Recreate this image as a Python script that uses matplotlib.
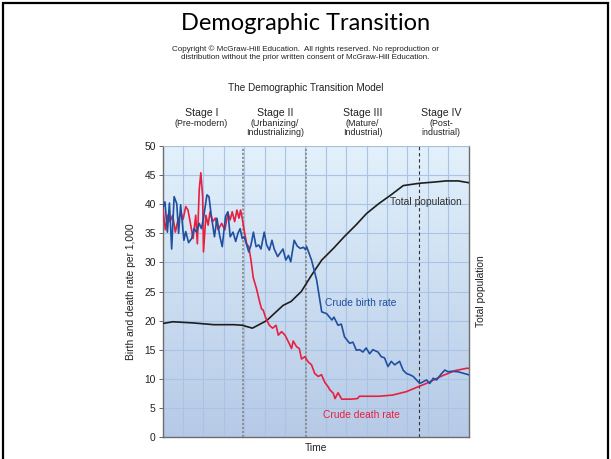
import numpy as np
import matplotlib
matplotlib.use("Agg")
import matplotlib.pyplot as plt

# Time runs in arbitrary grid units (0-15); rates are per 1,000 people.
birth_x = [0.00, 0.11, 0.23, 0.33, 0.44, 0.56, 0.69, 0.78, 0.88, 1.04, 1.13, 1.27,
           1.42, 1.53, 1.66, 1.79, 1.90, 2.00, 2.17, 2.27, 2.38, 2.54, 2.66, 2.79,
           2.92, 3.08, 3.20, 3.31, 3.45, 3.58, 3.69, 3.80, 3.90, 4.00, 4.12, 4.22,
           4.33, 4.45, 4.58, 4.71, 4.82, 4.98, 5.10, 5.23, 5.36, 5.47, 5.64, 5.80,
           5.90, 6.04, 6.17, 6.28, 6.45, 6.60, 6.75, 6.90, 7.00, 7.06, 7.30, 7.55,
           7.80, 8.04, 8.30, 8.40, 8.60, 8.76, 8.92, 9.17, 9.33, 9.50, 9.66, 9.82,
           9.98, 10.15, 10.31, 10.56, 10.72, 10.88, 11.05, 11.21, 11.38, 11.62, 11.79,
           11.96, 12.12, 12.29, 12.45, 12.61, 12.78, 12.94, 13.10, 13.27, 13.43, 13.68,
           13.84, 14.00, 14.17, 14.50, 15.00]
birth_rate = [39.3, 40.4, 35.2, 40.2, 32.3, 41.3, 40.1, 35.0, 39.9, 33.8, 35.3, 33.4,
              34.1, 35.8, 35.2, 36.7, 35.8, 37.6, 41.6, 41.3, 38.1, 34.4, 37.6, 34.7,
              32.7, 37.9, 38.7, 34.4, 35.2, 33.6, 35.0, 35.8, 34.1, 34.4, 33.0, 31.8,
              33.0, 35.2, 32.7, 33.0, 32.3, 35.2, 33.0, 32.1, 33.8, 32.3, 31.0, 31.8,
              32.3, 30.4, 31.2, 30.1, 33.8, 32.8, 32.4, 32.6, 32.2, 32.7, 30.4, 27.0,
              21.5, 21.2, 20.1, 20.6, 19.2, 19.4, 17.2, 16.1, 16.3, 14.9, 15.0, 14.6,
              15.3, 14.3, 15.0, 14.6, 13.8, 13.6, 12.1, 13.0, 12.4, 13.0, 11.5,
              10.9, 10.7, 10.4, 9.8, 9.2, 9.5, 9.8, 9.2, 10.1, 9.8, 10.9,
              11.5, 11.2, 11.3, 11.2, 10.7]

death_x = [0.00, 0.13, 0.25, 0.36, 0.49, 0.62, 0.73, 0.90, 1.00, 1.13, 1.24, 1.36,
           1.49, 1.62, 1.70, 1.79, 1.87, 1.96, 2.00, 2.12, 2.23, 2.32, 2.45, 2.58,
           2.72, 2.89, 3.05, 3.20, 3.31, 3.41, 3.53, 3.64, 3.74, 3.82, 3.90, 4.01,
           4.12, 4.22, 4.33, 4.44, 4.60, 4.77, 4.85, 4.93, 5.06, 5.23, 5.39, 5.56,
           5.67, 5.83, 6.00, 6.16, 6.32, 6.40, 6.57, 6.70, 6.81, 6.97, 7.14, 7.30,
           7.46, 7.63, 7.79, 7.95, 8.12, 8.20, 8.37, 8.45, 8.60, 8.78, 9.20, 9.55,
           9.65, 10.60, 11.27, 11.96, 12.37, 13.00, 13.70, 14.33, 14.90, 15.00]
death_rate = [39.6, 35.6, 38.1, 37.0, 38.1, 35.2, 37.0, 38.5, 37.4, 39.6, 39.0, 36.7,
              34.1, 38.1, 33.2, 42.4, 45.4, 41.3, 31.8, 38.1, 36.4, 38.7, 37.0, 37.6,
              35.6, 36.7, 35.6, 38.5, 37.3, 38.7, 37.0, 39.0, 37.6, 39.0, 37.6, 35.2,
              33.2, 32.7, 30.4, 27.4, 25.5, 23.0, 22.0, 21.8, 20.4, 19.2, 18.7, 19.2,
              17.5, 18.1, 17.5, 16.4, 15.2, 16.5, 15.5, 15.2, 13.4, 13.8, 12.9, 12.4,
              10.9, 10.4, 10.7, 9.4, 8.6, 8.1, 7.5, 6.6, 7.6, 6.5, 6.5, 6.6,
              7.0, 7.0, 7.2, 7.8, 8.4, 9.3, 10.5, 11.4, 11.8, 11.8]

# Total population has no scale of its own; it is drawn on the rate axis.
pop_x = [0.0, 0.5, 1.5, 2.5, 3.5, 3.9, 4.4, 5.1, 5.9, 6.3, 6.8, 7.3, 7.8, 8.4,
         8.9, 9.5, 10.0, 10.6, 11.2, 11.8, 12.6, 13.3, 13.9, 14.5, 15.0]
population = [19.5, 19.8, 19.6, 19.3, 19.3, 19.2, 18.7, 20.0, 22.6, 23.3, 25.0, 27.8,
              30.4, 32.5, 34.4, 36.5, 38.4, 40.1, 41.6, 43.2, 43.6, 43.8, 44.0, 44.0,
              43.7]

stage_names = ["Stage I", "Stage II", "Stage III", "Stage IV"]
stage_notes = ["(Pre-modern)", "(Urbanizing/\nIndustrializing)", "(Mature/\nIndustrial)",
               "(Post-\nindustrial)"]
stage_centers = [1.9, 5.5, 9.8, 13.65]
stage_bounds = [3.93, 7.05, 12.58]

BLUE = "#1f4f9e"
RED = "#e8203f"
W, H = 611, 459

fig = plt.figure(figsize=(W / 100, H / 100), dpi=100)
fig.patch.set_facecolor("white")

# slide frame
fig.add_artist(plt.Rectangle((3 / W, -0.05), (W - 6) / W, 1.05 - 3 / H,
                             transform=fig.transFigure, fill=False,
                             edgecolor="black", linewidth=1.6))

fig.text(0.5, 1 - 23 / H, "Demographic Transition", ha="center", va="center",
         fontsize=17, family="Lato")
fig.text(0.5, 1 - 53 / H,
         "Copyright \u00a9 McGraw-Hill Education.  All rights reserved. No reproduction or\n"
         "distribution without the prior written consent of McGraw-Hill Education.",
         ha="center", va="center", fontsize=5.8, family="Liberation Sans",
         linespacing=1.2, color="#222222")
fig.text(0.5, 1 - 88 / H, "The Demographic Transition Model", ha="center",
         va="center", fontsize=7.2, family="Liberation Sans", color="#222222")

left, right, top, bottom = 162.7, 468.5, 146, 437
ax = fig.add_axes([left / W, 1 - bottom / H, (right - left) / W, (bottom - top) / H])

# light blue at the top fading to a deeper blue at the bottom
grad = np.linspace(0, 1, 256).reshape(-1, 1)
cmap = matplotlib.colors.LinearSegmentedColormap.from_list("bg", ["#e2f1fb", "#b6cae7"])
ax.imshow(grad, extent=[0, 15, 0, 50], origin="upper", aspect="auto", cmap=cmap,
          zorder=-1, interpolation="bilinear")
ax.set_xlim(0, 15)
ax.set_ylim(0, 50)

ax.set_xticks(np.arange(1, 15))
ax.set_yticks(np.arange(0, 51, 5))
ax.grid(True, color="#a9c3e7", linewidth=0.8)
ax.tick_params(axis="x", length=0, labelbottom=False)
ax.tick_params(axis="y", length=3, width=0.7, color="#666666", labelsize=7.4,
               labelcolor="#222222", pad=2)
for lab in ax.get_yticklabels():
    lab.set_family("Liberation Sans")

for side in ["left", "bottom", "right"]:
    ax.spines[side].set_color("#6d6d6d")
    ax.spines[side].set_linewidth(1.0)
ax.spines["top"].set_color("#a9bcd4")
ax.spines["top"].set_linewidth(0.6)

for i, xb in enumerate(stage_bounds):
    if i < 2:
        ax.axvline(xb, color="#8a8a8a", linewidth=1.3, linestyle=(0, (1.2, 1.0)), zorder=2)
    else:
        ax.axvline(xb, color="#333333", linewidth=0.8, linestyle=(0, (3, 2.5)), zorder=2)

ax.plot(pop_x, population, color="#1e1e1e", linewidth=1.2, zorder=3)
ax.plot(death_x, death_rate, color=RED, linewidth=1.2, zorder=4)
ax.plot(birth_x, birth_rate, color=BLUE, linewidth=1.2, zorder=5)

ax.text(11.15, 40.3, "Total population", color="#333333", fontsize=7.4,
        family="Liberation Sans", va="center", zorder=6)
ax.text(7.95, 23.0, "Crude birth rate", color=BLUE, fontsize=7.4,
        family="Liberation Sans", va="center", zorder=6)
ax.text(7.85, 3.8, "Crude death rate", color=RED, fontsize=7.4,
        family="Liberation Sans", va="center", zorder=6)

for name, note, xc in zip(stage_names, stage_notes, stage_centers):
    ax.text(xc, 50 + 33 / 5.82, name, ha="center", va="center", fontsize=7.6,
            family="Liberation Sans", color="#222222")
    ax.text(xc, 50 + 27.5 / 5.82, note, ha="center", va="top", fontsize=6.4,
            family="Liberation Sans", color="#222222", linespacing=1.05)

ax.set_ylabel("Birth and death rate per 1,000", fontsize=7.4, family="Liberation Sans",
              color="#222222", labelpad=6)
ax.set_xlabel("Time", fontsize=7.4, family="Liberation Sans", color="#222222", labelpad=4)
fig.text(480.5 / W, 1 - 291 / H, "Total population", rotation=90, ha="center",
         va="center", fontsize=7.4, family="Liberation Sans", color="#222222")

fig.savefig("out.png", dpi=100)
